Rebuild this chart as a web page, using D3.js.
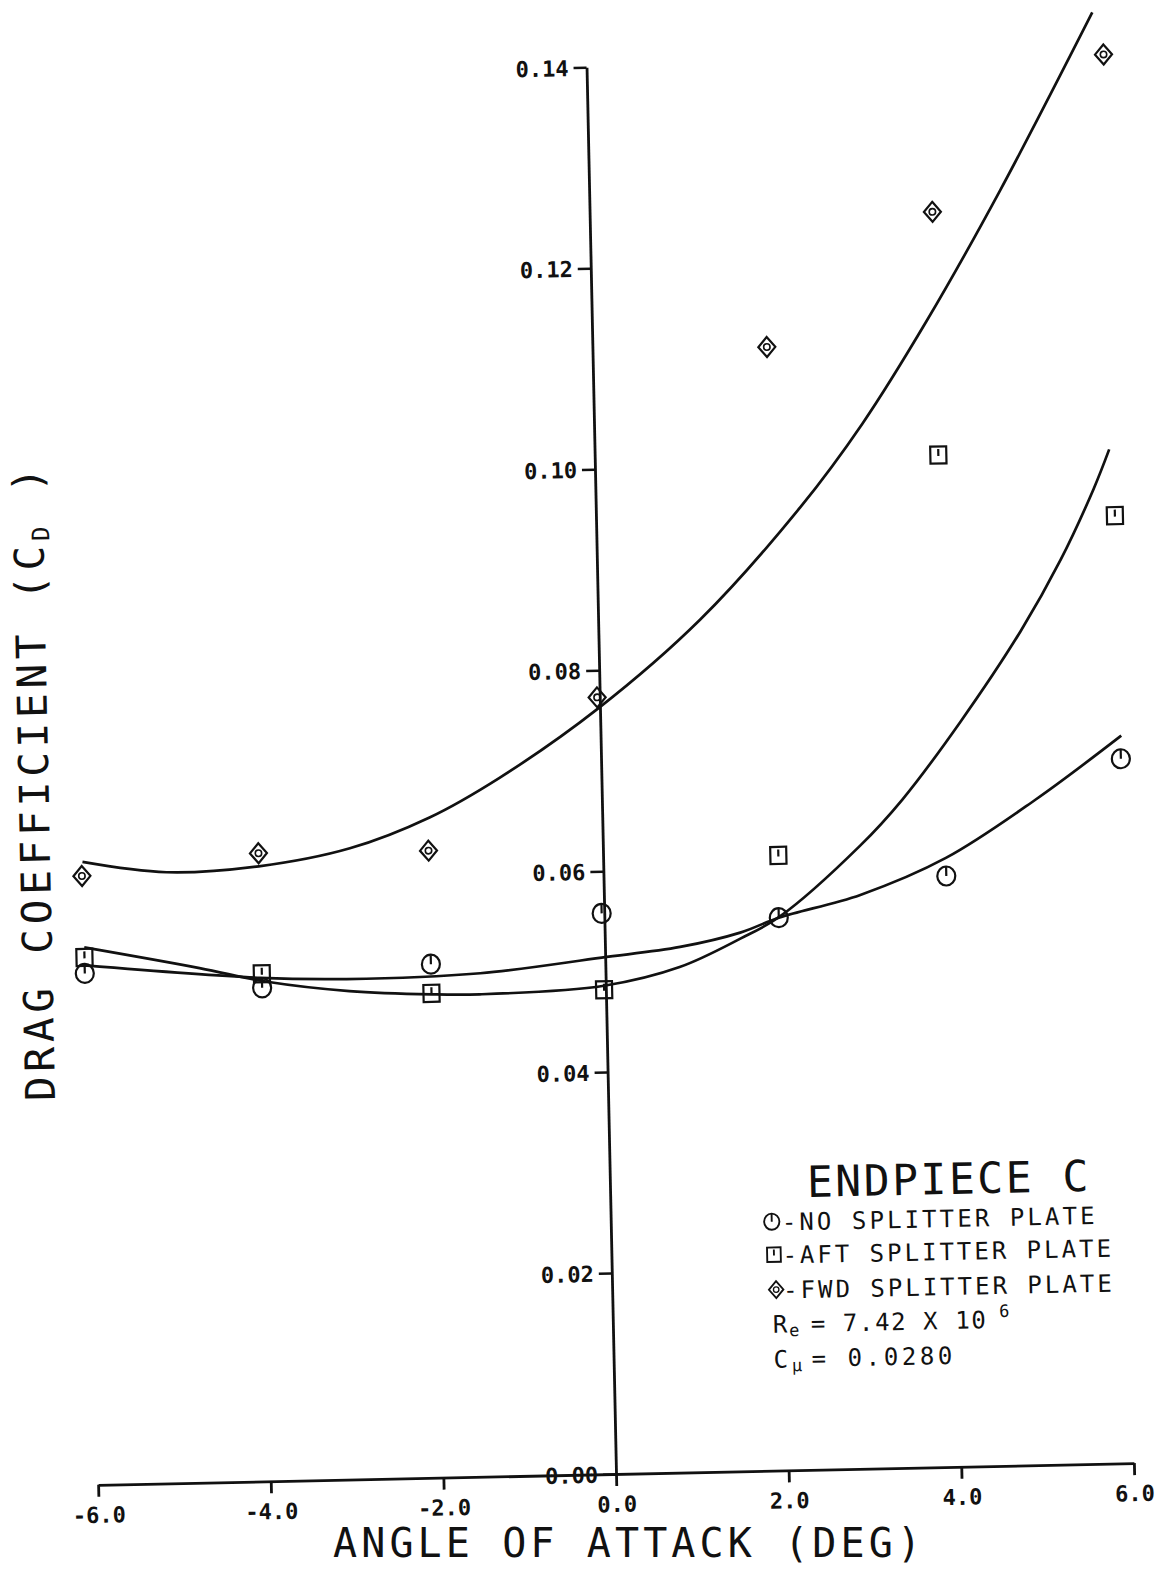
<!DOCTYPE html>
<html><head><meta charset="utf-8">
<script src="https://cdn.jsdelivr.net/npm/d3@7"></script>
<style>body{margin:0;background:#fff} svg{display:block}</style>
</head><body>
<script>
// ---- data ----
const xTicks = [-6, -4, -2, 0, 2, 4, 6];
const xTickLabels = ["-6.0", "-4.0", "-2.0", "0.0", "2.0", "4.0", "6.0"];
const yTicks = [0, 0.02, 0.04, 0.06, 0.08, 0.10, 0.12, 0.14];
const yTickLabels = ["0.00", "0.02", "0.04", "0.06", "0.08", "0.10", "0.12", "0.14"];

const alphaNo  = [-6.03, -3.98, -2.02, -0.03, 2.02, 3.97, 6.02];
const cdNo     = [0.0509, 0.0491, 0.0511, 0.0558, 0.0550, 0.0588, 0.0701];
const alphaAft = [-6.03, -3.98, -2.02, -0.02, 2.03, 3.98, 6.01];
const cdAft    = [0.0525, 0.0505, 0.0482, 0.0482, 0.0612, 0.1007, 0.0943];
const alphaFwd = [-6.04, -3.99, -2.02, -0.03, 2.02, 3.97, 5.99];
const cdFwd    = [0.0606, 0.0625, 0.0624, 0.0773, 0.1118, 0.1249, 0.1402];

// fitted curves
const fitNoX  = [-6.03, -4.0, -3.0, -1.45, -0.04, 0.87, 1.57, 2.02, 2.97, 3.97, 5.02, 6.03];
const fitNoY  = [0.0517, 0.0501, 0.0498, 0.0501, 0.0514, 0.0523, 0.0536, 0.0550, 0.0571, 0.0606, 0.0662, 0.0724];
const fitAftX = [-6.03, -4.70, -3.92, -2.97, -2.02, -1.46, -0.02, 0.86, 1.57, 2.03, 2.98, 3.48, 4.17, 4.89, 5.37, 5.77, 5.96];
const fitAftY = [0.0535, 0.0512, 0.0497, 0.0486, 0.0481, 0.0480, 0.0486, 0.0503, 0.0530, 0.0551, 0.0620, 0.0665, 0.0741, 0.0830, 0.0900, 0.0970, 0.1009];
const fitFwdX = [-6.03, -5.06, -3.99, -2.93, -2.0, -1.18, -0.02, 1.18, 2.37, 3.11, 3.88, 4.76, 5.87];
const fitFwdY = [0.0620, 0.0608, 0.0612, 0.0628, 0.0657, 0.0695, 0.0762, 0.0848, 0.0958, 0.1040, 0.1141, 0.1269, 0.1444];

const legendLabels = ["-NO SPLITTER PLATE", "-AFT SPLITTER PLATE", "-FWD SPLITTER PLATE"];

// ---- drawing ----
const W = 1161, H = 1571;
const svg = d3.select("body").append("svg").attr("width", W).attr("height", H);
svg.append("rect").attr("width", W).attr("height", H).attr("fill", "#fff");
const g = svg.append("g").attr("transform", "rotate(-1.2,616,1474)");

const x = d3.scaleLinear().domain([-6, 6]).range([98, 1134]);
const y = d3.scaleLinear().domain([0, 0.14]).range([1474, 67]);
const ink = "#111";
const mono = "'DejaVu Sans Mono', monospace";

// x axis
const gx = g.append("g").attr("transform", `translate(0,${y(0)})`)
  .call(d3.axisBottom(x).tickValues(xTicks).tickSize(12).tickSizeOuter(0)
    .tickFormat((d, i) => xTickLabels[i]));
gx.select(".domain").attr("stroke", ink).attr("stroke-width", 2.8);
gx.selectAll(".tick line").attr("stroke", ink).attr("stroke-width", 2.8);
gx.selectAll(".tick text").attr("y", 38).attr("dy", 0).attr("fill", ink)
  .style("font-family", mono).style("font-weight", "bold").style("font-size", "22px");

// y axis
const gy = g.append("g").attr("transform", `translate(${x(0)},0)`)
  .call(d3.axisLeft(y).tickValues(yTicks).tickSize(13).tickSizeOuter(0)
    .tickFormat((d, i) => yTickLabels[i]));
gy.select(".domain").attr("stroke", ink).attr("stroke-width", 2.8);
gy.selectAll(".tick line").attr("stroke", ink).attr("stroke-width", 2.5);
gy.selectAll(".tick text").attr("x", -18).attr("dy", "0.36em").attr("fill", ink)
  .style("font-family", mono).style("font-weight", "bold").style("font-size", "22px");

// curves
const line = d3.line().x(d => x(d[0])).y(d => y(d[1])).curve(d3.curveCatmullRom.alpha(0.5));
[[fitNoX, fitNoY], [fitAftX, fitAftY], [fitFwdX, fitFwdY]].forEach(([xs, ys]) => {
  g.append("path").datum(d3.zip(xs, ys)).attr("d", line)
    .attr("fill", "none").attr("stroke", ink).attr("stroke-width", 2.7);
});

// marker shapes
function circleMark(s) {
  s.append("ellipse").attr("rx", 9).attr("ry", 9.5);
  s.append("line").attr("x1", 0).attr("x2", 0).attr("y1", -9).attr("y2", 0);
}
function squareMark(s) {
  s.append("rect").attr("x", -8).attr("y", -8.5).attr("width", 16).attr("height", 17);
  s.append("line").attr("x1", 0).attr("x2", 0).attr("y1", -6).attr("y2", 1);
}
function diamondMark(s) {
  s.append("path").attr("d", "M0,-10L8.5,0L0,10L-8.5,0Z");
  s.append("circle").attr("r", 3.2).attr("stroke-width", 1.6);
}
function drawMarkers(xs, ys, shape) {
  g.append("g").attr("fill", "none").attr("stroke", ink).attr("stroke-width", 2.2)
    .selectAll("g").data(d3.zip(xs, ys)).join("g")
    .attr("transform", d => `translate(${x(d[0])},${y(d[1])})`)
    .each(function () { shape(d3.select(this)); });
}
drawMarkers(alphaNo, cdNo, circleMark);
drawMarkers(alphaAft, cdAft, squareMark);
drawMarkers(alphaFwd, cdFwd, diamondMark);

// axis titles
svg.append("text").attr("x", 627).attr("y", 1557).attr("text-anchor", "middle")
  .attr("textLength", 588).attr("lengthAdjust", "spacing")
  .attr("fill", ink).style("font-family", mono).style("font-size", "40px")
  .text("ANGLE OF ATTACK (DEG)");

const yt = g.append("text").attr("transform", "translate(63,770) rotate(-90)")
  .attr("text-anchor", "middle").attr("fill", ink)
  .style("font-family", mono).style("font-size", "41px").style("letter-spacing", "4.8px");
yt.append("tspan").text("DRAG COEFFICIENT (C");
yt.append("tspan").attr("dy", 6).style("font-size", "24px").text("D");
yt.append("tspan").attr("dy", -6).text(" )");

// legend block
const lg = g.append("g").attr("fill", ink).style("font-family", mono);
lg.append("text").attr("x", 813).attr("y", 1201).style("font-size", "43px")
  .style("letter-spacing", "2.5px").text("ENDPIECE C");

const legShapes = [circleMark, squareMark, diamondMark];
const legRowY = [1234, 1267, 1302];
legendLabels.forEach((t, i) => {
  lg.append("text").attr("x", 787).attr("y", legRowY[i]).style("font-size", "24px")
    .style("letter-spacing", i === 0 ? "3.1px" : "3.0px").text(t);
  const m = lg.append("g").attr("fill", "none").attr("stroke", ink).attr("stroke-width", 2.2)
    .attr("transform", `translate(${777 + i * 1.5},${legRowY[i] - 9}) scale(0.85)`);
  legShapes[i](m);
});

const re = lg.append("text").attr("x", 776).attr("y", 1336).style("font-size", "24px")
  .style("letter-spacing", "1.6px");
re.append("tspan").text("R");
re.append("tspan").attr("dy", 4).style("font-size", "17px").text("e");
re.append("tspan").attr("dy", -4).attr("dx", 10).text("= 7.42 X 10");
re.append("tspan").attr("dy", -11).attr("dx", 12).style("font-size", "17px").text("6");

const cm = lg.append("text").attr("x", 776).attr("y", 1371).style("font-size", "24px")
  .style("letter-spacing", "3.6px");
cm.append("tspan").text("C");
cm.append("tspan").attr("dy", 4).style("font-size", "17px").text("μ");
cm.append("tspan").attr("dy", -4).attr("dx", 6).text("= 0.0280");
</script>
</body></html>
